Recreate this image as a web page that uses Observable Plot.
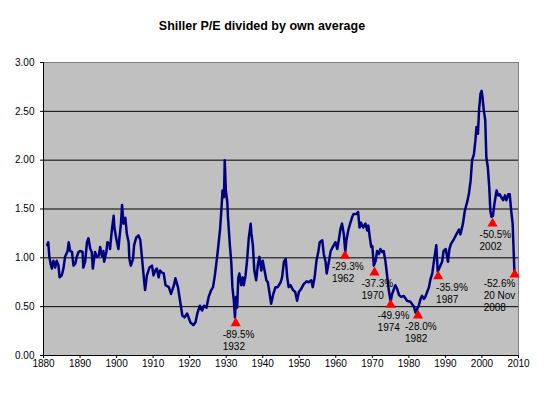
<!DOCTYPE html>
<html>
<head>
<meta charset="utf-8">
<script src="https://cdn.jsdelivr.net/npm/d3@7"></script>
<script src="https://cdn.jsdelivr.net/npm/@observablehq/plot@0.6"></script>
<style>
  html, body { margin: 0; padding: 0; background: #fff; }
  #chart svg { display: block; }
</style>
</head>
<body>
<div id="chart"></div>
<script>
const titleText = "Shiller P/E divided by own average";

const years = [
  1881.0,1881.3,1881.6,1882.0,1882.3,1882.7,1883.2,1883.6,1884.1,1884.4,1885.0,1885.5,1885.9,1886.6,1886.9,
  1887.3,1887.8,1888.2,1888.7,1889.1,1889.6,1890.2,1890.7,1890.9,1891.4,1891.9,1892.3,1892.8,1893.2,1893.5,
  1894.1,1894.6,1895.1,1895.5,1896.0,1896.4,1896.6,1897.2,1897.5,1898.1,1898.2,1898.7,1899.2,1899.4,1899.9,
  1900.5,1900.8,1901.2,1901.5,1901.9,1902.4,1902.8,1903.3,1903.5,1903.9,1904.5,1904.8,1905.4,1906.0,1906.5,
  1906.9,1907.4,1907.8,1908.3,1909.0,1909.7,1910.1,1910.6,1911.0,1911.5,1911.9,1912.4,1912.9,1913.4,1914.3,
  1914.9,1915.7,1916.1,1916.8,1917.5,1918.0,1918.6,1919.3,1919.8,1920.2,1921.0,1921.6,1922.1,1922.8,1923.4,
  1923.9,1924.6,1925.2,1925.9,1926.4,1926.9,1927.3,1927.7,1928.3,1928.7,1929.0,1929.4,1929.6,1929.9,1930.3,
  1930.5,1931.0,1931.4,1931.7,1932.1,1932.4,1932.7,1933.0,1933.3,1933.6,1934.1,1934.5,1934.8,1935.3,1935.7,
  1936.2,1936.7,1936.9,1937.3,1937.7,1938.2,1938.7,1939.1,1939.6,1940.0,1940.5,1941.0,1941.4,1941.9,1942.3,
  1942.9,1943.5,1944.1,1944.9,1945.3,1945.8,1946.3,1946.7,1947.1,1947.6,1948.3,1948.9,1949.4,1949.9,1950.5,
  1951.2,1952.0,1952.6,1953.3,1953.7,1954.2,1954.7,1955.2,1955.6,1956.3,1956.7,1957.2,1957.5,1958.1,1958.6,
  1959.3,1959.9,1960.4,1960.8,1961.3,1961.7,1962.2,1962.6,1962.9,1963.4,1964.0,1964.5,1964.9,1965.7,1966.1,
  1966.5,1966.9,1967.5,1968.1,1968.6,1968.9,1969.3,1969.7,1970.0,1970.4,1970.9,1971.3,1971.8,1972.2,1972.7,
  1973.1,1973.6,1974.1,1974.5,1975.0,1975.4,1975.9,1976.3,1976.8,1977.3,1977.9,1978.6,1979.5,1980.4,1981.4,
  1981.8,1982.3,1982.7,1983.2,1983.6,1984.1,1984.5,1985.0,1985.5,1985.9,1986.4,1986.8,1987.3,1987.5,1987.9,
  1988.5,1989.1,1989.5,1990.1,1990.7,1991.1,1991.5,1992.3,1993.0,1993.7,1994.1,1994.8,1995.3,1996.0,1996.4,
  1996.9,1997.3,1997.8,1998.2,1998.5,1998.9,1999.2,1999.6,1999.9,2000.1,2000.5,2000.9,2001.2,2001.6,2002.0,
  2002.3,2002.6,2003.0,2003.4,2004.0,2004.4,2004.9,2005.3,2005.8,2006.3,2006.7,2007.2,2007.6,2008.0,2008.4,
  2008.7,2008.9
];
const ratios = [
  1.13,1.16,1.01,0.93,0.89,0.97,0.90,0.97,0.92,0.80,0.82,0.90,1.01,1.07,1.16,
  1.07,1.06,0.92,0.94,1.01,1.06,1.07,1.06,0.90,0.96,1.16,1.20,1.09,1.06,0.89,
  1.06,1.01,1.02,1.11,1.02,1.07,0.96,1.06,1.16,1.14,1.09,1.28,1.43,1.31,1.20,
  1.09,1.21,1.35,1.54,1.35,1.41,1.25,1.16,0.99,0.92,0.99,1.13,1.21,1.23,1.18,
  1.02,0.82,0.67,0.82,0.90,0.92,0.82,0.87,0.89,0.80,0.87,0.85,0.84,0.72,0.70,
  0.63,0.72,0.79,0.70,0.53,0.41,0.39,0.43,0.38,0.34,0.31,0.34,0.43,0.51,0.46,
  0.51,0.49,0.60,0.67,0.70,0.82,0.94,1.07,1.28,1.50,1.69,1.62,2.00,1.69,1.57,
  1.41,1.13,0.95,0.70,0.56,0.39,0.60,0.49,0.79,0.84,0.72,0.80,0.72,0.82,0.97,
  1.21,1.35,1.25,1.13,0.87,0.77,0.94,1.01,0.87,0.97,0.87,0.77,0.75,0.63,0.53,
  0.63,0.70,0.70,0.75,0.80,0.96,0.99,0.80,0.70,0.72,0.67,0.65,0.56,0.65,0.68,
  0.73,0.76,0.75,0.77,0.70,0.80,0.97,1.06,1.16,1.18,1.04,0.96,0.84,0.96,1.07,
  1.12,1.16,1.09,1.18,1.30,1.35,1.24,1.06,1.18,1.28,1.36,1.42,1.45,1.45,1.47,
  1.31,1.36,1.31,1.35,1.28,1.33,1.21,1.11,1.12,0.92,0.97,1.07,1.04,1.09,1.06,
  1.07,0.96,0.80,0.67,0.55,0.63,0.68,0.72,0.68,0.62,0.60,0.61,0.56,0.55,0.50,
  0.44,0.48,0.51,0.58,0.61,0.58,0.60,0.65,0.70,0.78,0.84,0.95,1.08,1.13,0.86,
  0.91,0.96,1.07,1.09,0.96,1.09,1.14,1.19,1.24,1.29,1.24,1.35,1.48,1.58,1.65,
  1.79,2.00,2.06,2.20,2.34,2.27,2.51,2.68,2.71,2.66,2.51,2.41,2.03,1.93,1.72,
  1.48,1.42,1.43,1.55,1.69,1.64,1.65,1.62,1.59,1.64,1.59,1.65,1.65,1.48,1.35,
  1.04,0.84
];

const markerYears  = [1932.6, 1962.5, 1970.6, 1975.0, 1982.5, 1988.0, 2002.9, 2008.95];
const markerValues = [0.33, 1.02, 0.85, 0.52, 0.41, 0.81, 1.35, 0.83];
const markerDrops  = ["-89.5%", "-29.3%", "-37.3%", "-49.9%", "-28.0%", "-35.9%", "-50.5%", "-52.6%"];
const markerDates  = ["1932", "1962", "1970", "1974", "1982", "1987", "2002", "20 Nov\n2008"];

const xTicks = [1880, 1890, 1900, 1910, 1920, 1930, 1940, 1950, 1960, 1970, 1980, 1990, 2000, 2010];
const yTicks = [0, 0.5, 1, 1.5, 2, 2.5, 3];
const gridValues = [0.5, 1, 1.5, 2, 2.5];

const series = years.map((y, i) => ({year: y, ratio: ratios[i]}));
const markers = markerYears.map((y, i) => ({
  year: y, value: markerValues[i],
  label: markerDrops[i] + "\n" + markerDates[i],
  date: markerDates[i]
}));

const regular = markers.filter(d => d.date !== "1987" && !d.date.includes("2008"));
const m1987 = markers.filter(d => d.date === "1987");
const m2008 = markers.filter(d => d.date.includes("2008"));

const annFont = "'Liberation Sans', Arial, sans-serif";
const textOpts = {
  x: "year", y: "value", text: "label",
  textAnchor: "start", lineAnchor: "top", lineHeight: 1.2,
  fontSize: 10, fill: "#000", dy: 6, fontFamily: annFont
};

const chart = Plot.plot({
  width: 545,
  height: 395,
  marginLeft: 43,
  marginRight: 27,
  marginTop: 62,
  marginBottom: 40,
  style: {background: "#fff", fontFamily: "'Liberation Sans', Arial, sans-serif", fontSize: "10px", color: "#000"},
  x: {domain: [1880, 2010], ticks: xTicks, tickFormat: d => String(d), label: null, tickSize: 3, tickPadding: 1},
  y: {domain: [0, 3], ticks: yTicks, tickFormat: d3.format(".2f"), label: null, tickSize: 3, tickPadding: 6},
  marks: [
    Plot.frame({fill: "#C0C0C0", stroke: "#808080", strokeWidth: 1}),
    Plot.ruleY(gridValues, {stroke: "#000", strokeWidth: 1}),
    Plot.ruleX([1880], {stroke: "#000", strokeWidth: 1}),
    Plot.ruleY([0], {stroke: "#000", strokeWidth: 1}),
    Plot.line(series, {x: "year", y: "ratio", stroke: "#000080", strokeWidth: 2.5}),
    Plot.dot(markers, {x: "year", y: "value", symbol: "triangle", r: 3.8, fill: "#FF0000", stroke: "none"}),
    Plot.text(regular, {...textOpts, dx: -13}),
    Plot.text(m1987, {...textOpts, dx: -2}),
    Plot.text(m2008, {...textOpts, dx: -31, dy: 4}),
    Plot.text([titleText], {frameAnchor: "top", dy: -41, dx: -19, fontSize: 12.5, fontWeight: "bold", fill: "#000", text: d => d}),
    Plot.axisX({ticks: xTicks, tickFormat: d => String(d), tickSize: 3, tickPadding: 1, label: null}),
    Plot.axisY({ticks: yTicks, tickFormat: d3.format(".2f"), tickSize: 3, tickPadding: 6, label: null})
  ]
});
document.getElementById("chart").appendChild(chart);
</script>
</body>
</html>
